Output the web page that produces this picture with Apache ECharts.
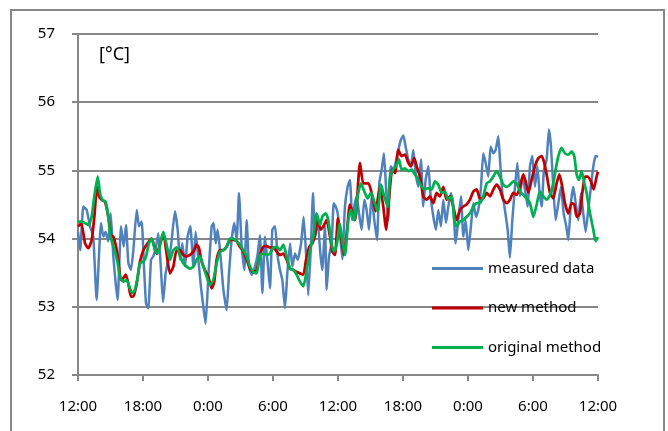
<!DOCTYPE html>
<html>
<head>
<meta charset="utf-8">
<script src="https://cdn.jsdelivr.net/npm/echarts@6/dist/echarts.min.js"></script>
<style>
html,body{margin:0;padding:0;background:#fff;}
#chart{width:668px;height:431px;}
</style>
</head>
<body>
<div id="chart"></div>
<script>
// x values are hours since the first 12:00 tick
const xTickLabels = ["12:00","18:00","0:00","6:00","12:00","18:00","0:00","6:00","12:00"];
const seriesNames = ["measured data","new method","original method"];

const measuredData = [
[0,54.10],[0.2,53.83],[0.49,54.47],[0.80,54.42],[1.11,54.18],[1.41,54.03],[1.72,53.10],[2.12,54.23],[2.34,54.03],[2.55,54.10],[2.80,53.96],[3.02,54.37],[3.26,53.74],[3.48,53.34],[3.66,53.10],[3.97,54.18],[4.22,53.88],[4.43,54.20],[4.65,53.64],[4.89,53.54],[5.11,53.83],[5.42,54.42],[5.63,54.18],[5.88,54.25],[6.09,53.59],[6.28,53.05],[6.49,52.98],[6.74,53.69],[6.95,53.74],[7.20,53.88],[7.42,54.08],[7.66,53.54],[7.85,53.07],[8.09,53.49],[8.34,53.69],[8.58,53.88],[8.95,54.40],[9.20,54.13],[9.42,53.69],[9.63,53.93],[9.88,53.59],[10.12,54.03],[10.37,54.18],[10.65,53.59],[10.86,54.10],[11.11,53.69],[11.35,53.29],[11.57,53.00],[11.78,52.75],[12.03,53.44],[12.34,54.18],[12.52,54.23],[12.71,53.93],[12.89,54.13],[13.11,53.83],[13.42,53.25],[13.72,52.95],[13.94,53.49],[14.18,53.98],[14.43,54.23],[14.65,53.98],[14.86,54.67],[15.11,53.88],[15.35,53.54],[15.57,54.27],[15.78,53.59],[16.03,53.47],[16.34,53.59],[16.59,53.78],[16.80,54.05],[17.02,53.20],[17.26,54.03],[17.51,53.64],[17.72,53.27],[17.94,54.13],[18.19,54.18],[18.43,53.74],[18.65,53.54],[18.86,53.39],[19.11,52.98],[19.32,53.49],[19.57,53.93],[19.78,53.59],[20.03,53.78],[20.28,53.69],[20.59,53.93],[20.83,54.32],[21.08,53.69],[21.26,53.17],[21.51,53.93],[21.69,54.67],[21.88,54.03],[22.12,54.27],[22.37,53.78],[22.55,53.54],[22.80,54.18],[22.95,53.25],[23.17,53.74],[23.42,53.93],[23.60,54.52],[23.79,54.47],[23.97,54.37],[24.18,54.08],[24.40,53.70],
[24.64,54.47],[24.89,54.76],[25.10,54.86],[25.32,54.27],[25.50,54.47],[25.72,54.62],[25.94,54.37],[26.18,54.13],[26.43,54.57],[26.64,54.42],[26.86,54.13],[27.10,54.62],[27.35,54.27],[27.60,53.98],[27.81,54.81],[28.03,55.01],[28.24,55.25],[28.43,54.76],[28.64,54.27],[28.86,55.06],[29.10,55.01],[29.32,55.11],[29.57,55.30],[29.81,55.45],[30.03,55.51],[30.24,55.35],[30.49,55.16],[30.74,55.06],[30.95,55.30],[31.17,54.96],[31.41,54.76],[31.66,55.16],[31.87,54.47],[32.09,54.86],[32.34,55.06],[32.55,54.62],[32.80,54.32],[33.04,54.13],[33.26,54.42],[33.50,54.18],[33.72,54.57],[33.97,54.23],[34.18,54.47],[34.43,54.67],[34.64,54.47],[34.86,53.93],[35.10,54.27],[35.35,54.62],[35.57,54.03],[35.78,54.27],[36.03,53.83],[36.27,54.18],[36.49,54.52],[36.74,54.32],[36.95,54.42],[37.20,54.76],[37.41,55.25],[37.63,55.11],[37.87,54.91],[38.09,55.35],[38.34,55.25],[38.55,55.30],[38.80,55.50],[38.95,55.16],[39.17,54.67],[39.41,54.42],[39.66,54.13],[39.87,53.72],[40.09,54.27],[40.34,54.76],[40.55,55.11],[40.80,54.62],[41.01,54.91],[41.26,54.72],[41.50,54.47],[41.72,55.06],[41.94,55.21],[42.18,54.76],[42.40,55.06],[42.61,54.67],[42.80,54.47],[43.01,55.01],[43.26,55.16],[43.47,55.60],[43.66,55.35],[43.87,54.76],[44.09,54.27],[44.34,54.52],[44.58,54.76],[44.83,54.37],[45.07,54.18],[45.26,53.98],[45.50,54.52],[45.72,54.76],[45.94,54.52],[46.18,54.27],[46.43,54.67],[46.64,54.37],[46.86,54.10],[47.10,54.42],[47.35,54.76],[47.57,55.06],[47.78,55.21],[48,55.20]
];

const newMethodData = [
[0,54.18],[0.30,54.22],[0.65,53.93],[0.95,53.86],[1.26,53.98],[1.51,54.32],[1.75,54.76],[1.94,54.62],[2.18,54.57],[2.49,54.54],[2.80,54.32],[3.05,54.05],[3.26,54.03],[3.48,53.91],[3.72,53.69],[3.97,53.39],[4.18,53.42],[4.40,53.47],[4.65,53.34],[4.89,53.15],[5.11,53.15],[5.42,53.34],[5.72,53.66],[6.03,53.83],[6.34,53.91],[6.55,53.96],[6.80,54.00],[7.05,53.88],[7.26,53.78],[7.57,53.91],[7.88,54.08],[8.18,53.78],[8.49,53.49],[8.80,53.59],[9.11,53.83],[9.42,53.83],[9.72,53.76],[10.03,53.74],[10.34,53.76],[10.65,53.81],[10.95,53.91],[11.17,53.86],[11.42,53.66],[11.72,53.54],[12.03,53.44],[12.34,53.27],[12.58,53.37],[12.80,53.69],[13.11,53.83],[13.42,53.83],[13.72,53.88],[14.03,53.98],[14.34,53.98],[14.65,53.96],[14.95,53.88],[15.26,53.81],[15.57,53.69],[15.88,53.56],[16.18,53.51],[16.49,53.54],[16.80,53.76],[17.11,53.88],[17.42,53.89],[17.72,53.87],[18.03,53.87],[18.34,53.81],[18.65,53.76],[18.95,53.78],[19.26,53.69],[19.57,53.56],[19.88,53.54],[20.18,53.51],[20.49,53.49],[20.80,53.47],[21.05,53.69],[21.35,53.88],[21.63,53.93],[21.88,54.05],[22.12,54.30],[22.40,54.13],[22.65,54.18],[22.95,54.27],[23.26,54.03],[23.48,53.81],[23.72,53.76],[24.00,54.30],[24.30,54.00],[24.55,53.76],[24.85,54.15],[25.10,54.50],[25.57,54.27],[26.03,55.11],[26.34,54.81],[26.80,54.81],[27.10,54.67],[27.47,54.40],[27.87,54.76],[28.18,54.47],[28.43,54.13],[28.70,54.57],[29.01,55.01],[29.26,54.96],[29.57,55.30],[29.87,55.21],[30.18,55.23],[30.49,55.11],[30.74,55.06],[31.04,55.18],[31.26,55.06],[31.57,54.91],[31.87,54.62],[32.18,54.57],[32.49,54.62],[32.80,54.52],[33.10,54.67],[33.41,54.62],[33.72,54.76],[34.03,54.57],[34.34,54.62],[34.64,54.47],[34.95,54.27],[35.26,54.42],[35.57,54.47],[35.87,54.50],[36.18,54.57],[36.49,54.69],[36.80,54.72],[37.10,54.59],[37.41,54.59],[37.72,54.67],[38.03,54.62],[38.34,54.72],[38.64,54.79],[38.95,54.72],[39.26,54.57],[39.57,54.52],[39.87,54.57],[40.18,54.67],[40.49,54.64],[40.80,54.76],[41.10,54.94],[41.32,54.84],[41.57,54.67],[41.87,54.86],[42.18,55.06],[42.49,55.18],[42.80,55.21],[43.04,55.11],[43.29,54.91],[43.57,54.67],[43.87,54.59],[44.18,54.81],[44.43,54.94],[44.70,54.76],[44.95,54.52],[45.26,54.37],[45.57,54.52],[45.81,54.50],[46.03,54.32],[46.33,54.37],[46.55,54.67],[46.80,54.91],[47.04,54.91],[47.35,54.84],[47.60,54.72],[47.87,54.91],[48,54.98]
];

const originalMethodData = [
[0,54.25],[0.34,54.25],[0.65,54.23],[0.95,54.20],[1.26,54.32],[1.51,54.62],[1.82,54.91],[2.03,54.67],[2.25,54.57],[2.55,54.54],[2.80,54.32],[2.95,54.08],[3.17,53.93],[3.42,53.81],[3.66,53.64],[3.88,53.44],[4.18,53.37],[4.49,53.39],[4.80,53.27],[5.02,53.20],[5.26,53.25],[5.51,53.44],[5.72,53.64],[6.03,53.66],[6.28,53.74],[6.55,53.93],[6.80,54.00],[7.11,53.83],[7.35,53.78],[7.66,53.98],[7.88,54.10],[8.18,53.91],[8.49,53.69],[8.80,53.83],[9.11,53.87],[9.42,53.74],[9.72,53.64],[10.03,53.59],[10.34,53.56],[10.65,53.59],[10.95,53.69],[11.26,53.74],[11.57,53.59],[11.88,53.44],[12.18,53.32],[12.49,53.39],[12.80,53.64],[13.11,53.81],[13.42,53.83],[13.72,53.88],[14.03,54.00],[14.34,54.00],[14.65,53.96],[14.95,53.91],[15.26,53.83],[15.57,53.74],[15.88,53.59],[16.18,53.51],[16.49,53.49],[16.80,53.76],[17.11,53.78],[17.42,53.76],[17.72,53.78],[18.03,53.87],[18.34,53.88],[18.65,53.83],[18.95,53.91],[19.26,53.74],[19.57,53.56],[19.88,53.54],[20.18,53.47],[20.49,53.37],[20.80,53.30],[21.11,53.54],[21.42,53.83],[21.72,54.03],[22.03,54.37],[22.34,54.20],[22.55,54.32],[22.86,54.37],[23.11,54.27],[23.42,53.91],[23.66,53.81],[23.94,53.96],[24.15,54.22],[24.34,54.03],[24.64,53.76],[24.95,54.27],[25.20,54.42],[25.50,54.27],[25.81,54.62],[26.12,54.81],[26.43,54.69],[26.74,54.59],[27.04,54.67],[27.35,54.54],[27.66,54.40],[27.97,54.79],[28.27,54.62],[28.58,54.47],[28.80,54.89],[29.10,55.01],[29.35,55.06],[29.63,55.16],[29.87,55.01],[30.18,55.03],[30.49,54.99],[30.80,55.01],[31.10,54.94],[31.41,54.86],[31.72,54.76],[32.03,54.72],[32.34,54.74],[32.64,54.72],[32.95,54.84],[33.26,54.79],[33.57,54.67],[33.87,54.69],[34.18,54.57],[34.49,54.62],[34.74,54.27],[34.95,54.18],[35.26,54.25],[35.57,54.27],[35.87,54.32],[36.18,54.37],[36.49,54.47],[36.80,54.52],[37.10,54.52],[37.41,54.62],[37.72,54.81],[38.03,54.84],[38.34,54.91],[38.64,54.99],[38.95,54.91],[39.26,54.79],[39.57,54.76],[39.87,54.79],[40.18,54.84],[40.49,54.81],[40.80,54.69],[41.10,54.64],[41.41,54.59],[41.72,54.52],[42.03,54.32],[42.34,54.50],[42.64,54.69],[42.95,54.62],[43.26,54.57],[43.57,54.64],[43.87,54.81],[44.09,55.01],[44.34,55.21],[44.64,55.33],[44.95,55.25],[45.26,55.23],[45.57,55.28],[45.81,55.21],[46.03,54.94],[46.24,54.86],[46.49,54.99],[46.74,54.81],[46.95,54.67],[47.26,54.37],[47.57,54.13],[47.78,53.96],[48,54.02]
];

const gray = '#878787';
const font = 'Noto Sans';
const chart = echarts.init(document.getElementById('chart'), null, {renderer:'canvas'});
chart.setOption({
  animation:false,
  backgroundColor:'#ffffff',
  graphic:[
    {type:'rect', shape:{x:11, y:10, width:653, height:440}, style:{fill:'none', stroke:gray, lineWidth:2}, silent:true},
    {type:'text', left:99, top:46, style:{text:'[°C]', font:'18px "Noto Sans"', fill:'#000'}}
  ],
  grid:{left:78, right:70, top:34, bottom:56, containLabel:false},
  legend:{
    orient:'vertical', left:432, top:261, padding:0, itemWidth:51, itemHeight:3, itemGap:24.5,
    icon:'rect',
    textStyle:{fontFamily:font, fontSize:15, color:'#000'},
    data:seriesNames
  },
  xAxis:{
    type:'value', min:0, max:48, interval:6,
    axisLine:{show:true, lineStyle:{color:gray, width:2}},
    axisTick:{show:true, length:6, lineStyle:{color:gray, width:2}},
    splitLine:{show:false},
    axisLabel:{fontFamily:font, fontSize:15, color:'#000', margin:24,
      formatter:function(v){ return xTickLabels[Math.round(v/6)]; }}
  },
  yAxis:{
    type:'value', min:52, max:57, interval:1,
    axisLine:{show:true, lineStyle:{color:gray, width:2}},
    axisTick:{show:true, length:6, lineStyle:{color:gray, width:2}},
    splitLine:{show:true, lineStyle:{color:gray, width:2}},
    axisLabel:{fontFamily:font, fontSize:15, color:'#000', margin:23}
  },
  series:[
    {name:seriesNames[0], type:'line', data:measuredData, showSymbol:false, symbol:'none', smooth:0.15,
      itemStyle:{color:'#4F81BD'}, lineStyle:{color:'#4F81BD', width:2.5}},
    {name:seriesNames[1], type:'line', data:newMethodData, showSymbol:false, symbol:'none', smooth:0.2,
      itemStyle:{color:'#C00000'}, lineStyle:{color:'#C00000', width:2.75}},
    {name:seriesNames[2], type:'line', data:originalMethodData, showSymbol:false, symbol:'none', smooth:0.2,
      itemStyle:{color:'#00B050'}, lineStyle:{color:'#00B050', width:2.75}}
  ]
});
</script>
</body>
</html>
